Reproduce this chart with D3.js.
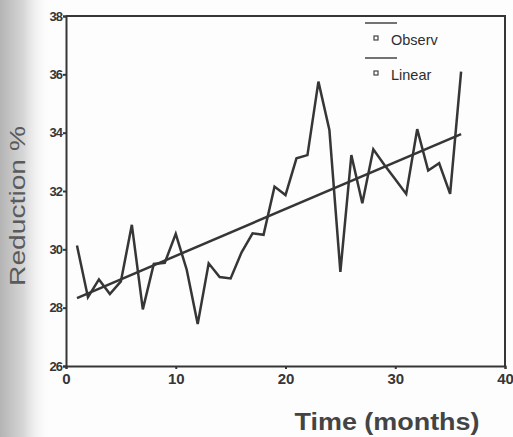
<!DOCTYPE html>
<html>
<head>
<meta charset="utf-8">
<script src="https://cdn.jsdelivr.net/npm/d3@7"></script>
<style>
  html, body { margin: 0; padding: 0; background: #fff; }
  svg { display: block; }
</style>
</head>
<body>
<script>
// Monthly reduction (%) observations, months 1..36
const months = [1,2,3,4,5,6,7,8,9,10,11,12,13,14,15,16,17,18,19,20,21,22,23,24,25,26,27,28,29,30,31,32,33,34,35,36];
const observed = [30.13,28.36,28.97,28.47,28.9,30.84,27.94,29.5,29.54,30.53,29.3,27.44,29.52,29.05,29.0,29.9,30.55,30.5,32.15,31.86,33.12,33.23,35.75,34.09,29.23,33.23,31.58,33.43,32.9,32.4,31.9,34.12,32.7,32.95,31.9,36.09];
const xTicks = [0,10,20,30,40];
const yTicks = [26,28,30,32,34,36,38];
const legendLabels = ["Observ","Linear"];

const W = 513, H = 437;
const svg = d3.select("body").append("svg").attr("width", W).attr("height", H);

// shaded left margin
const defs = svg.append("defs");
const g = defs.append("linearGradient").attr("id","shade").attr("x1","0").attr("x2","1").attr("y1","0").attr("y2","0");
g.append("stop").attr("offset","0").attr("stop-color","#b4b4b4");
g.append("stop").attr("offset","0.45").attr("stop-color","#d6d6d6");
g.append("stop").attr("offset","1").attr("stop-color","#ffffff").attr("stop-opacity",0);
svg.append("rect").attr("width",W).attr("height",H).attr("fill","#fdfdfd");
svg.append("rect").attr("x",0).attr("y",0).attr("width",52).attr("height",H).attr("fill","url(#shade)");

const x = d3.scaleLinear().domain([0,40]).range([66,505]);
const y = d3.scaleLinear().domain([26,38]).range([366,16]);

const ink = "#363636";

// least-squares linear fit of the observations
const mx = d3.mean(months), my = d3.mean(observed);
const sxy = d3.sum(months, (m,i) => (m-mx)*(observed[i]-my));
const sxx = d3.sum(months, m => (m-mx)*(m-mx));
const slope = sxy/sxx, intercept = my - slope*mx;
const fit = [months[0], months[months.length-1]].map(m => [m, intercept + slope*m]);

// frame (top and right edges)
svg.append("path")
  .attr("d", `M${x(0)},${y(38)}H${x(40)}V${y(26)}`)
  .attr("fill","none").attr("stroke", ink).attr("stroke-width", 2);

// axes
const yAxis = svg.append("g").attr("transform",`translate(${x(0)},0)`)
  .call(d3.axisLeft(y).tickValues(yTicks).tickSize(3).tickPadding(1).tickFormat(d3.format("d")));
const xAxis = svg.append("g").attr("transform",`translate(0,${y(26)})`)
  .call(d3.axisBottom(x).tickValues(xTicks).tickSize(3).tickPadding(4).tickFormat(d3.format("d")));
[yAxis, xAxis].forEach(a => {
  a.select(".domain").attr("stroke", ink).attr("stroke-width", 2);
  a.selectAll(".tick line").attr("stroke", ink).attr("stroke-width", 2);
});
yAxis.selectAll(".tick text")
  .attr("font-family","Liberation Sans, Arial, sans-serif").attr("font-weight","bold")
  .attr("font-size",13).attr("letter-spacing","-1").attr("fill", ink);
xAxis.selectAll(".tick text")
  .attr("font-family","Liberation Sans, Arial, sans-serif").attr("font-weight","bold")
  .attr("font-size",15).attr("fill", ink);

// observed series
const line = d3.line().x(d => x(d[0])).y(d => y(d[1]));
svg.append("path")
  .datum(months.map((m,i) => [m, observed[i]]))
  .attr("d", line).attr("fill","none").attr("stroke", ink)
  .attr("stroke-width", 2.5).attr("stroke-linejoin","miter");

// linear trend
svg.append("path")
  .datum(fit)
  .attr("d", line).attr("fill","none").attr("stroke", ink).attr("stroke-width", 2.5);

// legend
const leg = svg.append("g").attr("font-family","Liberation Sans, Arial, sans-serif");
legendLabels.forEach((lab, i) => {
  const oy = i*35;
  leg.append("line").attr("x1",365).attr("x2",397).attr("y1",23+oy).attr("y2",23+oy)
    .attr("stroke","#444").attr("stroke-width",1.5);
  leg.append("rect").attr("x",374).attr("y",36+oy).attr("width",4).attr("height",4)
    .attr("fill","none").attr("stroke","#444").attr("stroke-width",1.2);
  leg.append("text").attr("x",391).attr("y",45+oy).attr("font-size",14.5).attr("fill","#2e2e2e").text(lab);
});

// axis titles
svg.append("text")
  .attr("transform","translate(25,206) rotate(-90)")
  .attr("text-anchor","middle")
  .attr("font-family","Liberation Sans, Arial, sans-serif")
  .attr("font-size",22).attr("fill","#5a5a5a")
  .attr("textLength",160).attr("lengthAdjust","spacingAndGlyphs")
  .text("Reduction %");
svg.append("text")
  .attr("x",387).attr("y",430)
  .attr("text-anchor","middle")
  .attr("font-family","Liberation Sans, Arial, sans-serif")
  .attr("font-weight","bold")
  .attr("font-size",23).attr("fill","#444")
  .attr("textLength",185).attr("lengthAdjust","spacingAndGlyphs")
  .text("Time (months)");
</script>
</body>
</html>
